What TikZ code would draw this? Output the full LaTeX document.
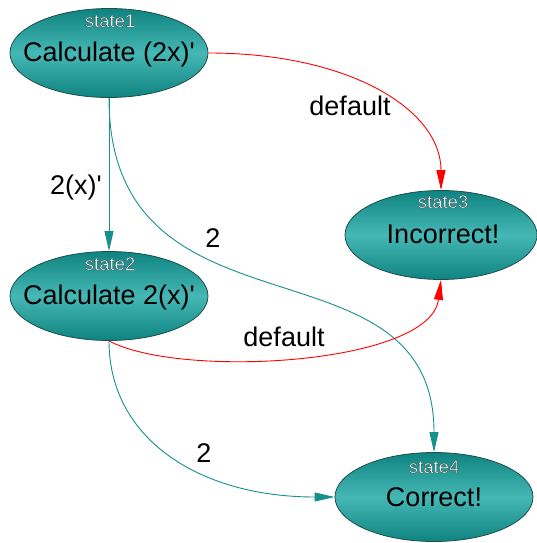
\documentclass[tikz,border=0pt]{standalone}
\usepackage{fontspec}
\newfontfamily\arial{Liberation Sans}
\usetikzlibrary{arrows.meta,shapes.geometric}
\definecolor{tealedge}{HTML}{178F8C}
\definecolor{tealdark}{HTML}{0F837F}
\definecolor{teallight}{HTML}{45B8B5}
\definecolor{outl}{HTML}{1D4F4E}
\definecolor{redge}{HTML}{FF0000}
\newcommand\halotext[1]{\special{pdf:literal direct 0.2 0.3 0.3 RG 0.35 w 2 Tr}#1\special{pdf:literal direct 0 Tr}}
\begin{document}
\begin{tikzpicture}[x=1pt,y=-1pt,
  statebox/.style={ellipse, draw=outl, line width=0.8pt, top color=tealdark,
    bottom color=tealdark, middle color=teallight, inner sep=0pt,
    minimum width=198pt, minimum height=89pt},
  maintext/.style={anchor=base, inner sep=0pt, text=black, font=\arial\fontsize{27}{30}\selectfont},
  tag/.style={anchor=base, inner sep=0pt, text=white, font=\arial\fontsize{18.5}{22}\selectfont},
  lbl/.style={anchor=base, inner sep=0pt, text=black, font=\arial\fontsize{27}{30}\selectfont},
  tedge/.style={draw=tealedge, line width=0.9pt, -{Triangle[length=20pt,width=9pt]}},
  redgestyle/.style={draw=redge, line width=0.9pt, -{Triangle[length=20pt,width=9pt]}}]
\useasboundingbox (0,0) rectangle (536,543);
% states
\node[statebox] (s1) at (109,53) {};
\node[statebox] (s2) at (109,296) {};
\node[statebox, minimum width=192pt] (s3) at (441,235) {};
\node[statebox] (s4) at (434,497) {};
% texts
\node[maintext] (s1t) at (109,61.5) {Calculate (2x)'};
\node[maintext] (s2t) at (109,304.5) {Calculate 2(x)'};
\node[maintext] (s3t) at (443,243.5) {Incorrect!};
\node[maintext] (s4t) at (434,506) {Correct!};
\node[tag] (s1g) at (110,27) {\halotext{state1}};
\node[tag] (s2g) at (110,270) {\halotext{state2}};
\node[tag] (s3g) at (443,208) {\halotext{state3}};
\node[tag] (s4g) at (434,473) {\halotext{state4}};
% edges
\draw[redgestyle] (s1.east) .. controls +(142,0) and +(0,-80) .. (s3.north);
\draw[tedge] (s1.south) -- (s2.north);
\draw[tedge] (s1.south) .. controls +(0,253) and +(0,-223) .. (s4.north);
\draw[redgestyle] (s2.south) .. controls +(71,38) and +(-11,85) .. (s3.south);
\draw[tedge] (s2.south) .. controls +(0,98) and +(-135,0) .. (s4.west);
% labels
\node[lbl] (l1) at (350,115) {default};
\node[lbl] (l2) at (76,194) {2(x)'};
\node[lbl] (l3) at (213,247) {2};
\node[lbl] (l4) at (284,346) {default};
\node[lbl] (l5) at (204,462) {2};
\end{tikzpicture}
\end{document}
